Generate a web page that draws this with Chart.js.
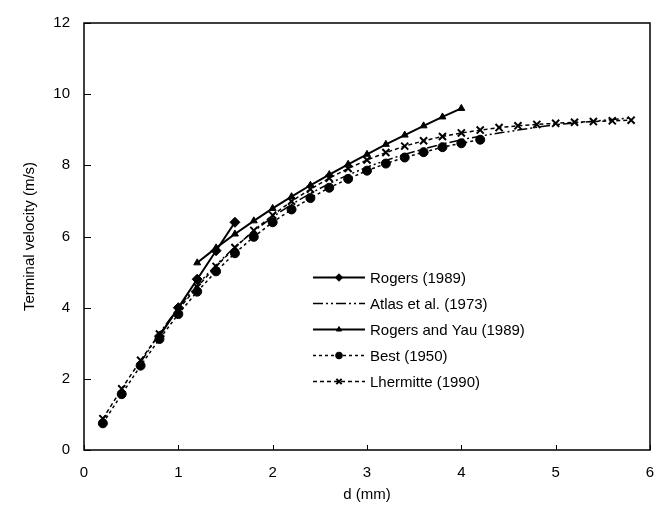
<!DOCTYPE html>
<html>
<head>
<meta charset="utf-8">
<script src="https://cdn.jsdelivr.net/npm/chart.js@4.4.0/dist/chart.umd.min.js"></script>
<style>
  html, body { margin: 0; padding: 0; background: #fff; }
  #wrap { width: 669px; height: 513px; position: relative; }
</style>
</head>
<body>
<div id="wrap"><canvas id="chart"></canvas></div>
<script>
// raindrop terminal velocity vs diameter
const dRogers = [0.8, 1.0, 1.2, 1.4, 1.6];
const vRogers = [3.2, 4.0, 4.8, 5.6, 6.4];

const dAtlas = [0.6, 0.8, 1.0, 1.2, 1.4, 1.6, 1.8, 2.0, 2.2, 2.4, 2.6, 2.8, 3.0, 3.2, 3.4, 3.6, 3.8, 4.0, 4.2, 4.4, 4.6, 4.8, 5.0, 5.2, 5.4, 5.6, 5.8];
const vAtlas = [2.46, 3.28, 4.00, 4.64, 5.20, 5.71, 6.15, 6.55, 6.90, 7.21, 7.49, 7.73, 7.95, 8.14, 8.31, 8.46, 8.60, 8.72, 8.82, 8.91, 8.99, 9.07, 9.14, 9.19, 9.24, 9.29, 9.33];

const dRogersYau = [1.2, 1.4, 1.6, 1.8, 2.0, 2.2, 2.4, 2.6, 2.8, 3.0, 3.2, 3.4, 3.6, 3.8, 4.0];
const vRogersYau = [5.26, 5.68, 6.07, 6.44, 6.79, 7.12, 7.44, 7.74, 8.03, 8.31, 8.59, 8.85, 9.11, 9.36, 9.60];

const dBest = [0.2, 0.4, 0.6, 0.8, 1.0, 1.2, 1.4, 1.6, 1.8, 2.0, 2.2, 2.4, 2.6, 2.8, 3.0, 3.2, 3.4, 3.6, 3.8, 4.0, 4.2];
const vBest = [0.75, 1.57, 2.37, 3.12, 3.82, 4.45, 5.02, 5.53, 5.99, 6.40, 6.76, 7.08, 7.37, 7.62, 7.85, 8.05, 8.22, 8.37, 8.51, 8.62, 8.72];

const dLhermitte = [0.2, 0.4, 0.6, 0.8, 1.0, 1.2, 1.4, 1.6, 1.8, 2.0, 2.2, 2.4, 2.6, 2.8, 3.0, 3.2, 3.4, 3.6, 3.8, 4.0, 4.2, 4.4, 4.6, 4.8, 5.0, 5.2, 5.4, 5.6, 5.8];
const vLhermitte = [0.88, 1.72, 2.52, 3.26, 3.95, 4.58, 5.16, 5.69, 6.17, 6.60, 6.99, 7.33, 7.64, 7.91, 8.15, 8.36, 8.54, 8.69, 8.81, 8.91, 8.99, 9.06, 9.11, 9.15, 9.18, 9.21, 9.23, 9.25, 9.27];

const xTicks = [0, 1, 2, 3, 4, 5, 6];
const yTicks = [0, 2, 4, 6, 8, 10, 12];

const FONT = 'Arial, "Liberation Sans", sans-serif';

function pts(xs, ys) {
  return xs.map((x, i) => ({ x: x, y: ys[i] }));
}

function series(label, xs, ys, style) {
  return Object.assign({
    label: label,
    data: pts(xs, ys),
    showLine: true,
    borderColor: '#000',
    backgroundColor: '#000',
    pointBorderColor: '#000',
    pointBackgroundColor: '#000',
    borderWidth: 1.5,
    tension: 0,
  }, style);
}

const datasets = [
  series('Rogers (1989)', dRogers, vRogers, {
    borderWidth: 2, pointStyle: 'rectRot', pointRadius: 5, pointBorderWidth: 1,
  }),
  series('Atlas et al. (1973)', dAtlas, vAtlas, {
    borderDash: [10, 3, 2, 3, 2, 3], pointRadius: 0,
  }),
  series('Rogers and Yau (1989)', dRogersYau, vRogersYau, {
    borderWidth: 2, pointStyle: 'triangle', pointRadius: 4, pointBorderWidth: 1,
  }),
  series('Best (1950)', dBest, vBest, {
    borderDash: [3, 3], pointStyle: 'circle', pointRadius: 4.5, pointBorderWidth: 1,
  }),
  series('Lhermitte (1990)', dLhermitte, vLhermitte, {
    borderDash: [4, 3], pointStyle: 'crossRot', pointRadius: 5, pointBorderWidth: 2,
  }),
];

// frame, inward tick marks and in-plot legend
const framePlugin = {
  id: 'frame',
  afterDraw(chart) {
    const { ctx, chartArea: a, scales } = chart;
    ctx.save();
    ctx.strokeStyle = '#000';
    ctx.lineWidth = 1.5;
    ctx.setLineDash([]);
    ctx.strokeRect(a.left, a.top, a.right - a.left, a.bottom - a.top);
    ctx.lineWidth = 1;
    ctx.beginPath();
    scales.x.ticks.forEach((t, i) => {
      const px = Math.round(scales.x.getPixelForTick(i)) + 0.5;
      ctx.moveTo(px, a.bottom);
      ctx.lineTo(px, a.bottom - 5);
    });
    scales.y.ticks.forEach((t, i) => {
      const py = Math.round(scales.y.getPixelForTick(i)) + 0.5;
      ctx.moveTo(a.left, py);
      ctx.lineTo(a.left + 7, py);
    });
    ctx.stroke();

    // legend
    const lx0 = 313, lx1 = 365, tx = 370, y0 = 277, dy = 26;
    ctx.font = '15px ' + FONT;
    ctx.textBaseline = 'middle';
    ctx.fillStyle = '#000';
    chart.data.datasets.forEach((ds, i) => {
      const y = y0 + i * dy + 0.5;
      ctx.beginPath();
      ctx.lineWidth = ds.borderWidth;
      ctx.setLineDash(ds.borderDash || []);
      ctx.moveTo(lx0, y);
      ctx.lineTo(lx1, y);
      ctx.stroke();
      ctx.setLineDash([]);
      if (ds.pointRadius > 0) {
        ctx.lineWidth = ds.pointBorderWidth;
        Chart.helpers.drawPoint(ctx, {
          pointStyle: ds.pointStyle,
          radius: ds.pointRadius * 0.75,
          rotation: 0,
          borderWidth: ds.pointBorderWidth,
        }, (lx0 + lx1) / 2, y);
      }
      ctx.fillText(ds.label, tx, y + 1);
    });
    ctx.restore();
  }
};

new Chart(document.getElementById('chart'), {
  type: 'scatter',
  data: { datasets: datasets },
  options: {
    responsive: true,
    maintainAspectRatio: false,
    animation: false,
    layout: { padding: { top: 18, right: 19, left: 0, bottom: 0 } },
    plugins: {
      legend: { display: false },
      tooltip: { enabled: false },
    },
    scales: {
      x: {
        type: 'linear',
        min: 0, max: 6,
        afterBuildTicks: (s) => { s.ticks = xTicks.map(v => ({ value: v })); },
        afterFit: (s) => { s.height = 63; },
        ticks: { color: '#000', padding: 14, maxRotation: 0, font: { size: 15, family: FONT } },
        grid: { display: false, drawTicks: false },
        border: { display: false },
        title: { display: true, text: 'd (mm)', color: '#000', padding: { top: 0, bottom: 9 }, font: { size: 15, family: FONT } },
      },
      y: {
        type: 'linear',
        min: 0, max: 12,
        afterBuildTicks: (s) => { s.ticks = yTicks.map(v => ({ value: v })); },
        afterFit: (s) => { s.width = 84; },
        ticks: { color: '#000', padding: 14, font: { size: 15, family: FONT } },
        grid: { display: false, drawTicks: false },
        border: { display: false },
        title: { display: true, text: 'Terminal velocity (m/s)', color: '#000', padding: { top: 21, bottom: 0 }, font: { size: 15, family: FONT } },
      },
    },
  },
  plugins: [framePlugin],
});
</script>
</body>
</html>
